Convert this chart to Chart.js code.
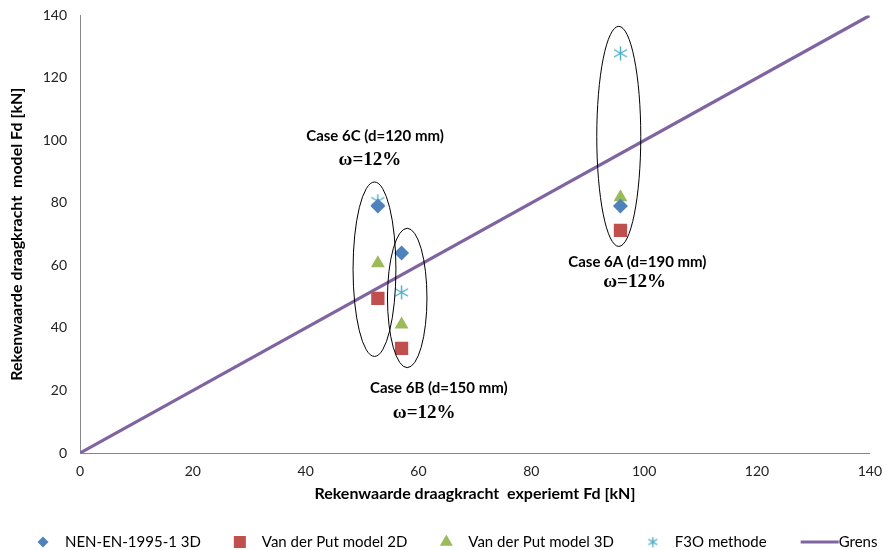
<!DOCTYPE html>
<html>
<head>
<meta charset="utf-8">
<script src="https://cdn.jsdelivr.net/npm/chart.js@4/dist/chart.umd.min.js"></script>
<style>
  html, body { margin: 0; padding: 0; background: #fff; }
  #wrap { width: 886px; height: 550px; }
</style>
</head>
<body>
<div id="wrap"><canvas id="chart"></canvas></div>
<script>
// experiment values per case: 6C, 6B, 6A
const experiment = [52.8, 57.0, 95.8]
const nen3d = [79, 64, 79]
const vdpModel2d = [49.5, 33.5, 71.2]
const vdpModel3d = [60.7, 41.1, 81.8]
const f3oMethode = [80.6, 51.4, 127.9]
const grens = [0, 140]

const axisTicks = [0, 20, 40, 60, 80, 100, 120, 140]

const seriesNames = ['NEN-EN-1995-1 3D', 'Van der Put model 2D', 'Van der Put model 3D', 'F3O methode', 'Grens']
const colors = ['#4F81BD', '#C0504D', '#9BBB59', '#4BACC6', '#8064A2']

function toPoints(ys) {
    return ys.map((y, i) => ({x: experiment[i], y: y}))
}

// asterisk marker (vertical + two diagonals)
function starMarker(color, size) {
    const c = document.createElement('canvas')
    c.width = size
    c.height = size
    const g = c.getContext('2d')
    const m = size / 2
    g.strokeStyle = color
    g.lineWidth = 1.4
    g.beginPath()
    g.moveTo(m, 0.5); g.lineTo(m, size - 0.5)
    g.moveTo(1, size * 0.25); g.lineTo(size - 1, size * 0.75)
    g.moveTo(size - 1, size * 0.25); g.lineTo(1, size * 0.75)
    g.stroke()
    return c
}

// groups of points circled per case, and their labels
const caseEllipses = [
    {cx: 52.2, cy: 58.8, rx: 3.8, ry: 27.9},
    {cx: 58.0, cy: 49.6, rx: 3.5, ry: 22.3},
    {cx: 95.5, cy: 101.3, rx: 3.9, ry: 35.2}
]
const caseLabels = [
    {x: 52.3, y: 101.5, title: 'Case 6C (d=120 mm)', wx: 51.4, wy: 93.8},
    {x: 63.6, y: 20.9, title: 'Case 6B (d=150 mm)', wx: 61.0, wy: 12.8},
    {x: 98.8, y: 61.0, title: 'Case 6A (d=190 mm)', wx: 98.3, wy: 54.6}
]

const casePlugin = {
    id: 'cases',
    afterDatasetsDraw(chart) {
        const {ctx, scales: {x, y}} = chart
        ctx.save()
        ctx.strokeStyle = '#000'
        ctx.lineWidth = 1
        caseEllipses.forEach(e => {
            const px = x.getPixelForValue(e.cx)
            const py = y.getPixelForValue(e.cy)
            const rx = Math.abs(x.getPixelForValue(e.cx + e.rx) - px)
            const ry = Math.abs(y.getPixelForValue(e.cy + e.ry) - py)
            ctx.beginPath()
            ctx.ellipse(px, py, rx, ry, 0, 0, Math.PI * 2)
            ctx.stroke()
        })
        ctx.fillStyle = '#000'
        ctx.textAlign = 'center'
        ctx.textBaseline = 'middle'
        caseLabels.forEach(l => {
            ctx.font = 'bold 15px Lato, "DejaVu Sans", sans-serif'
            ctx.fillText(l.title, x.getPixelForValue(l.x), y.getPixelForValue(l.y))
            ctx.font = 'bold 19px "Liberation Serif", serif'
            ctx.fillText('\u03c9=12%', x.getPixelForValue(l.wx), y.getPixelForValue(l.wy))
        })
        ctx.restore()
    }
}

// legend row under the x axis title
const legendRadius = [5.5, 8.5, 7.5, 0, 0]
const bottomLegend = {
    id: 'bottomLegend',
    afterDraw(chart) {
        const ctx = chart.ctx
        const y = 542
        let x = 38
        ctx.save()
        ctx.font = '15px Lato, sans-serif'
        ctx.textBaseline = 'middle'
        ctx.textAlign = 'left'
        chart.data.datasets.forEach((ds, i) => {
            let textX
            if (ds.type === 'line') {
                ctx.strokeStyle = ds.borderColor
                ctx.lineWidth = ds.borderWidth
                ctx.beginPath()
                ctx.moveTo(x, y)
                ctx.lineTo(x + 38, y)
                ctx.stroke()
                textX = x + 38
            } else {
                ctx.fillStyle = ds.backgroundColor
                ctx.strokeStyle = ds.borderColor
                Chart.helpers.drawPoint(ctx, {
                    pointStyle: i === 3 ? legendStar : ds.pointStyle,
                    radius: legendRadius[i],
                    rotation: 0,
                    borderWidth: 0
                }, x + 5, y)
                textX = x + 27
            }
            ctx.fillStyle = '#000'
            ctx.fillText(ds.label, textX, y)
            x = textX + ctx.measureText(ds.label).width + 34
        })
        ctx.restore()
    }
}

const star = starMarker(colors[3], 15)
const legendStar = starMarker(colors[3], 11)

new Chart(document.getElementById('chart'), {
    type: 'scatter',
    data: {
        datasets: [
            {label: seriesNames[0], data: toPoints(nen3d), pointStyle: 'rectRot', pointRadius: 7.5, backgroundColor: colors[0], borderColor: colors[0], borderWidth: 0},
            {label: seriesNames[1], data: toPoints(vdpModel2d), pointStyle: 'rect', pointRadius: 9.4, backgroundColor: colors[1], borderColor: colors[1], borderWidth: 0},
            {label: seriesNames[2], data: toPoints(vdpModel3d), pointStyle: 'triangle', pointRadius: 8, backgroundColor: colors[2], borderColor: colors[2], borderWidth: 0},
            {label: seriesNames[3], data: toPoints(f3oMethode), pointStyle: star, pointRadius: 7, backgroundColor: colors[3], borderColor: colors[3]},
            {label: seriesNames[4], type: 'line', data: grens.map(v => ({x: v, y: v})), pointRadius: 0, borderColor: colors[4], backgroundColor: colors[4], borderWidth: 3.2, showLine: true}
        ]
    },
    options: {
        responsive: true,
        maintainAspectRatio: false,
        animation: false,
        layout: {padding: {left: 0, right: 9, top: 13, bottom: 47}},
        plugins: {
            legend: {display: false},
            tooltip: {enabled: false}
        },
        scales: {
            x: {
                type: 'linear',
                min: 0, max: 140,
                afterBuildTicks: s => { s.ticks = axisTicks.map(v => ({value: v})) },
                afterFit: s => { s.height = 50 },
                grid: {display: false, drawTicks: true, tickLength: 6, color: '#868686'},
                border: {color: '#868686'},
                ticks: {color: '#222', padding: 4, font: {family: 'Lato, sans-serif', size: 14}},
                title: {display: true, text: 'Rekenwaarde draagkracht  experiemt Fd [kN]', color: '#000', padding: 0, font: {family: 'Lato, sans-serif', size: 16, weight: 'bold'}}
            },
            y: {
                type: 'linear',
                min: 0, max: 140,
                afterBuildTicks: s => { s.ticks = axisTicks.map(v => ({value: v})) },
                afterFit: s => { s.width = 80 },
                grid: {display: false, drawTicks: true, tickLength: 6, color: '#868686'},
                border: {color: '#868686'},
                ticks: {color: '#222', padding: 7, font: {family: 'Lato, sans-serif', size: 14}},
                title: {display: true, text: 'Rekenwaarde draagkracht  model Fd [kN]', color: '#000', padding: {top: 7, bottom: 0}, font: {family: 'Lato, sans-serif', size: 16, weight: 'bold'}}
            }
        }
    },
    plugins: [casePlugin, bottomLegend]
})
</script>
</body>
</html>
